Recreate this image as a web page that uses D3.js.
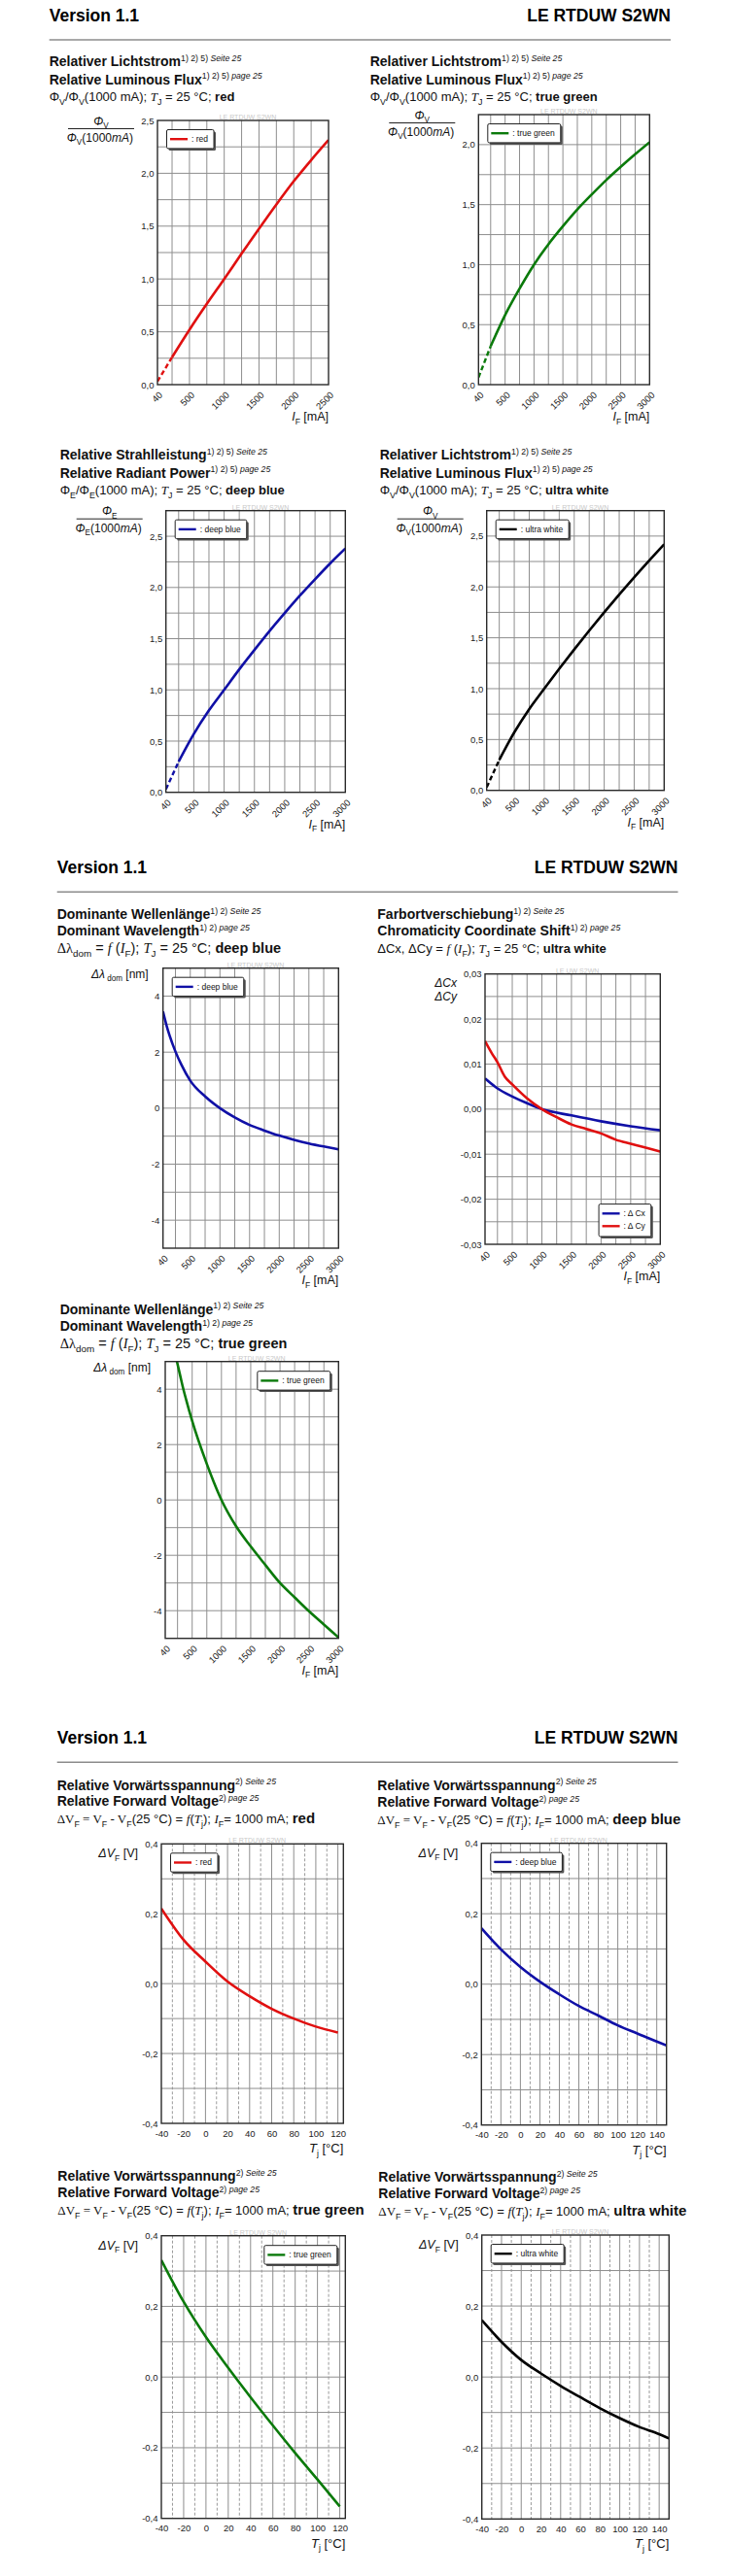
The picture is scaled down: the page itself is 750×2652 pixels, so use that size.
<!DOCTYPE html>
<html>
<head>
<meta charset="utf-8">
<script src="https://cdn.jsdelivr.net/npm/d3@7"></script>
<style>
body { margin: 0; background: #fff; }
svg { display: block; }
</style>
</head>
<body>
<div id="page"></div>
<script>
// ---------- data ----------
// relative flux / radiant power vs. forward current [mA]
const fluxRed   = [[40,0.03],[250,0.26],[500,0.52],[750,0.765],[1000,1.0],[1250,1.24],[1500,1.475],[1750,1.705],[2000,1.925],[2250,2.125],[2500,2.315]];
const fluxGreen = [[40,0.06],[250,0.32],[500,0.58],[750,0.8],[1000,1.0],[1250,1.17],[1500,1.32],[1750,1.46],[2000,1.585],[2250,1.705],[2500,1.815],[2750,1.92],[3000,2.02]];
const powerBlue = [[40,0.03],[250,0.3],[500,0.57],[750,0.8],[1000,1.0],[1250,1.2],[1500,1.39],[1750,1.575],[2000,1.75],[2250,1.92],[2500,2.08],[2750,2.235],[3000,2.38]];
const fluxWhite = [[40,0.03],[250,0.3],[500,0.57],[750,0.8],[1000,1.0],[1250,1.195],[1500,1.385],[1750,1.57],[2000,1.75],[2250,1.925],[2500,2.095],[2750,2.26],[3000,2.42]];
const dashedUntil = 250;

// dominant wavelength shift [nm] vs. current
const lambdaBlue  = [[40,3.45],[100,2.95],[150,2.6],[250,2.02],[350,1.55],[500,0.98],[750,0.42],[1000,0.0],[1250,-0.33],[1500,-0.6],[1750,-0.8],[2000,-0.98],[2250,-1.13],[2500,-1.26],[2750,-1.37],[3000,-1.47]];
const lambdaGreen = [[240,5.0],[300,4.45],[350,4.0],[400,3.6],[500,2.85],[750,1.3],[1000,0.0],[1250,-0.95],[1500,-1.68],[1750,-2.35],[2000,-3.0],[2250,-3.52],[2500,-4.03],[2750,-4.5],[3000,-4.97]];

// chromaticity shift, ultra white
const shiftCx = [[40,0.0068],[250,0.0046],[500,0.0028],[750,0.0013],[1000,0],[1500,-0.0014],[2000,-0.0027],[2500,-0.0038],[3000,-0.0047]];
const shiftCy = [[40,0.0151],[150,0.0125],[250,0.0104],[375,0.0072],[500,0.0055],[750,0.0024],[1000,0],[1250,-0.0018],[1500,-0.0034],[1750,-0.0044],[2000,-0.0054],[2250,-0.0068],[2500,-0.0077],[3000,-0.0094]];

// forward voltage shift [V] vs. junction temperature [°C]
const vfRed   = [[-40,0.215],[-20,0.126],[0,0.063],[20,0.006],[40,-0.036],[60,-0.072],[80,-0.1],[100,-0.123],[120,-0.14]];
const vfBlue  = [[-40,0.159],[-20,0.099],[0,0.049],[20,0.007],[40,-0.029],[60,-0.062],[80,-0.089],[100,-0.117],[120,-0.14],[140,-0.163],[150,-0.174]];
const vfGreen = [[-40,0.331],[-20,0.213],[0,0.113],[20,0.026],[40,-0.057],[60,-0.137],[80,-0.215],[100,-0.29],[120,-0.366]];
const vfWhite = [[-40,0.16],[-20,0.099],[0,0.048],[20,0.01],[40,-0.025],[60,-0.057],[80,-0.088],[100,-0.116],[120,-0.141],[140,-0.161],[150,-0.173]];

// tick labels
const currentTicks2500 = [40, 500, 1000, 1500, 2000, 2500];
const currentTicks3000 = [40, 500, 1000, 1500, 2000, 2500, 3000];
const fluxTicks25 = [0, 0.5, 1, 1.5, 2, 2.5];
const fluxTicks20 = [0, 0.5, 1, 1.5, 2];
const lambdaTicks = [-4, -2, 0, 2, 4];
const shiftTicks = [-0.03, -0.02, -0.01, 0, 0.01, 0.02, 0.03];
const vfTicks = [-0.4, -0.2, 0, 0.2, 0.4];
const tempTicks120 = [-40, -20, 0, 20, 40, 60, 80, 100, 120];
const tempTicks140 = [-40, -20, 0, 20, 40, 60, 80, 100, 120, 140];

// ---------- helpers ----------
const SANS = "'Liberation Sans', Arial, Helvetica, sans-serif";
const SERIF = "'Liberation Serif', 'Times New Roman', serif";
const loc = d3.formatLocale({decimal: ",", thousands: ".", grouping: [3], currency: ["", "€"], minus: "-"});

const COL = {red: "#e01010", green: "#0b7a0b", blue: "#1010a6", black: "#000"};

const N = t => ({t});
const B = (t, size) => ({t, b: true, size});
const I = t => ({t, i: true});
const IS = t => ({t, i: true, serif: true});
const S = t => ({t, serif: true});
const SUB = t => ({t, sub: true});
const SUP = t => ({t, sup: true});
const SUPI = t => ({t, sup: true, i: true});

const svg = d3.select("#page").append("svg")
    .attr("width", 750)
    .attr("height", 2652);
svg.append("rect").attr("width", 750).attr("height", 2652).attr("fill", "#fff");

// text with sub/superscripts built from tspans
function rich(g, x, y, segs, base, anchor) {
    const t = g.append("text")
        .attr("x", x)
        .attr("y", y)
        .attr("fill", "#111")
        .style("font-family", SANS)
        .style("font-size", base + "px")
        .style("text-anchor", anchor || "start");
    let shift = 0;
    segs.forEach(s => {
        let target = 0, size = s.size || base;
        if (s.sub) { target = base * 0.28; size = base * 0.68; }
        if (s.sup) { target = -base * 0.38; size = base * 0.62; }
        const sp = t.append("tspan").text(s.t)
            .attr("dy", target - shift)
            .style("font-size", size + "px");
        shift = target;
        if (s.b) sp.style("font-weight", "bold");
        if (s.i) sp.style("font-style", "italic");
        if (s.serif) sp.style("font-family", SERIF);
    });
    return t;
}

// ---------- page headers ----------
const headers = [
    {base: 21.7, line: 41, x0: 50.7, x1: 690},
    {base: 899.3, line: 918.3, x0: 58.7, x1: 697.5},
    {base: 1795, line: 1814.3, x0: 58.7, x1: 697.5}
];
headers.forEach(h => {
    svg.append("text").attr("x", h.x0).attr("y", h.base)
        .style("font-family", SANS).style("font-size", "17.5px").style("font-weight", "bold")
        .text("Version 1.1");
    svg.append("text").attr("x", h.x1).attr("y", h.base)
        .style("font-family", SANS).style("font-size", "17.5px").style("font-weight", "bold")
        .style("text-anchor", "end")
        .text("LE RTDUW S2WN");
    svg.append("line").attr("x1", h.x0).attr("x2", h.x1).attr("y1", h.line).attr("y2", h.line)
        .attr("stroke", "#8c8c8c").attr("stroke-width", 1.5);
});

// ---------- chart definitions ----------
const fluxTitle = (word, sym, color) => [
    [B(word === "E" ? "Relative Strahlleistung" : "Relativer Lichtstrom"), SUP("1) 2) 5) "), SUPI("Seite 25")],
    [B(word === "E" ? "Relative Radiant Power" : "Relative Luminous Flux"), SUP("1) 2) 5) "), SUPI("page 25")],
    [N("Φ"), SUB(sym), N("/Φ"), SUB(sym), N("(1000 mA); "), IS("T"), SUB("J"), N(" = 25 °C; "), B(color)]
];
const lambdaTitle = color => [
    [B("Dominante Wellenlänge"), SUP("1) 2) "), SUPI("Seite 25")],
    [B("Dominant Wavelength"), SUP("1) 2) "), SUPI("page 25")],
    [S("Δλ"), SUB("dom"), N(" = "), IS("f"), N(" ("), IS("I"), SUB("F"), N("); "), IS("T"), SUB("J"), N(" = 25 °C; "), B(color)]
];
const vfTitle = color => [
    [B("Relative Vorwärtsspannung"), SUP("2) "), SUPI("Seite 25")],
    [B("Relative Forward Voltage"), SUP("2) "), SUPI("page 25")],
    [S("ΔV"), SUB("F"), S(" = V"), SUB("F"), S(" - V"), SUB("F"), N("(25 °C) = "), IS("f"), N("("), IS("T"), SUB("j"), N("); "), IS("I"), SUB("F"), N("= 1000 mA; "), B(color, 15)]
];

const gridCurrent = max => d3.range(250, max, 250);

const charts = [
    {tx: 50.7, ty: [68.3, 86.7, 104.3], ts: [14, 14, 13], titles: fluxTitle("V", "V", "red"),
     left: 162, right: 338, top: 124, bottom: 396,
     xDomain: [40, 2500], yDomain: [0, 2.5], xTicks: currentTicks2500, yTicks: fluxTicks25, yFmt: loc.format(".1f"),
     xGrid: gridCurrent(2500), yGrid: d3.range(0.25, 2.5, 0.25), rotate: true, xLabel: "I",
     yLabel: {type: "frac", sym: "V"}, legend: {corner: "tl"},
     series: [{data: fluxRed, color: COL.red, label: ": red", dash: true}]},
    {tx: 380.7, ty: [68.3, 86.7, 104.3], ts: [14, 14, 13], titles: fluxTitle("V", "V", "true green"),
     left: 492.3, right: 668.3, top: 118, bottom: 396,
     xDomain: [40, 3000], yDomain: [0, 2.25], xTicks: currentTicks3000, yTicks: fluxTicks20, yFmt: loc.format(".1f"),
     xGrid: gridCurrent(3000), yGrid: d3.range(0.25, 2.25, 0.25), rotate: true, xLabel: "I",
     yLabel: {type: "frac", sym: "V"}, legend: {corner: "tl"},
     series: [{data: fluxGreen, color: COL.green, label: ": true green", dash: true}]},
    {tx: 61.7, ty: [473.3, 491.7, 509.3], ts: [14, 14, 13], titles: fluxTitle("E", "E", "deep blue"),
     left: 170.7, right: 355.3, top: 525.7, bottom: 815.7,
     xDomain: [40, 3000], yDomain: [0, 2.75], xTicks: currentTicks3000, yTicks: fluxTicks25, yFmt: loc.format(".1f"),
     xGrid: gridCurrent(3000), yGrid: d3.range(0.25, 2.75, 0.25), rotate: true, xLabel: "I",
     yLabel: {type: "frac", sym: "E"}, legend: {corner: "tl"},
     series: [{data: powerBlue, color: COL.blue, label: ": deep blue", dash: true}]},
    {tx: 390.7, ty: [473.3, 491.7, 509.3], ts: [14, 14, 13], titles: fluxTitle("V", "V", "ultra white"),
     left: 500.7, right: 683.3, top: 525.7, bottom: 813.7,
     xDomain: [40, 3000], yDomain: [0, 2.75], xTicks: currentTicks3000, yTicks: fluxTicks25, yFmt: loc.format(".1f"),
     xGrid: gridCurrent(3000), yGrid: d3.range(0.25, 2.75, 0.25), rotate: true, xLabel: "I",
     yLabel: {type: "frac", sym: "V"}, legend: {corner: "tl"},
     series: [{data: fluxWhite, color: COL.black, label: ": ultra white", dash: true}]},
    {tx: 58.7, ty: [946, 963.3, 981], ts: [14, 14, 14.5], titles: lambdaTitle("deep blue"),
     left: 167.7, right: 348.3, top: 996.7, bottom: 1285,
     xDomain: [40, 3000], yDomain: [-5, 5], xTicks: currentTicks3000, yTicks: lambdaTicks, yFmt: loc.format("d"),
     xGrid: gridCurrent(3000), yGrid: d3.range(-4, 5, 1), rotate: true, xLabel: "I",
     yLabel: {type: "lambda"}, legend: {corner: "tl"},
     series: [{data: lambdaBlue, color: COL.blue, label: ": deep blue"}]},
    {tx: 388.3, ty: [946, 963.3, 981], ts: [14, 14, 13],
     titles: [
        [B("Farbortverschiebung"), SUP("1) 2) "), SUPI("Seite 25")],
        [B("Chromaticity Coordinate Shift"), SUP("1) 2) "), SUPI("page 25")],
        [N("ΔCx, ΔCy = "), IS("f"), N(" ("), IS("I"), SUB("F"), N("); "), IS("T"), SUB("J"), N(" = 25 °C; "), B("ultra white")]
     ],
     left: 499, right: 679.3, top: 1002.7, bottom: 1281, wm: "LE UW S2WN",
     xDomain: [40, 3000], yDomain: [-0.03, 0.03], xTicks: currentTicks3000, yTicks: shiftTicks, yFmt: loc.format(".2f"),
     xGrid: gridCurrent(3000), yGrid: d3.range(-0.025, 0.03, 0.005), rotate: true, xLabel: "I",
     yLabel: {type: "cxy"}, legend: {corner: "br"},
     series: [{data: shiftCx, color: COL.blue, label: ": Δ Cx"}, {data: shiftCy, color: COL.red, label: ": Δ Cy"}]},
    {tx: 61.7, ty: [1352.7, 1370, 1387.7], ts: [14, 14, 14.5], titles: lambdaTitle("true green"),
     left: 170, right: 348.3, top: 1401.7, bottom: 1686.7,
     xDomain: [40, 3000], yDomain: [-5, 5], xTicks: currentTicks3000, yTicks: lambdaTicks, yFmt: loc.format("d"),
     xGrid: gridCurrent(3000), yGrid: d3.range(-4, 5, 1), rotate: true, xLabel: "I",
     yLabel: {type: "lambda"}, legend: {corner: "tr"},
     series: [{data: lambdaGreen, color: COL.green, label: ": true green"}]},
    {tx: 58.7, ty: [1842.7, 1859.3, 1877.3], ts: [14, 14, 13], titles: vfTitle("red"),
     left: 166, right: 353.3, top: 1898.3, bottom: 2186,
     xDomain: [-40, 125], yDomain: [-0.4, 0.4], xTicks: tempTicks120, yTicks: vfTicks, yFmt: loc.format(".1f"),
     xGrid: d3.range(-20, 125, 20), xGridDash: d3.range(-30, 125, 20), yGrid: d3.range(-0.3, 0.35, 0.1), xLabel: "T",
     yLabel: {type: "vf"}, legend: {corner: "tl"},
     series: [{data: vfRed, color: COL.red, label: ": red"}]},
    {tx: 388.3, ty: [1842.7, 1860, 1878], ts: [14, 14, 13], titles: vfTitle("deep blue"),
     left: 495.3, right: 685.7, top: 1897.7, bottom: 2187.7,
     xDomain: [-40, 150], yDomain: [-0.4, 0.4], xTicks: tempTicks140, yTicks: vfTicks, yFmt: loc.format(".1f"),
     xGrid: d3.range(-20, 150, 20), xGridDash: d3.range(-30, 150, 20), yGrid: d3.range(-0.3, 0.35, 0.1), xLabel: "T",
     yLabel: {type: "vf"}, legend: {corner: "tl"},
     series: [{data: vfBlue, color: COL.blue, label: ": deep blue"}]},
    {tx: 59.3, ty: [2245, 2262.3, 2280], ts: [14, 14, 13], titles: vfTitle("true green"),
     left: 166, right: 355.3, top: 2301.7, bottom: 2592.7,
     xDomain: [-40, 125], yDomain: [-0.4, 0.4], xTicks: tempTicks120, yTicks: vfTicks, yFmt: loc.format(".1f"),
     xGrid: d3.range(-20, 125, 20), xGridDash: d3.range(-30, 125, 20), yGrid: d3.range(-0.3, 0.35, 0.1), xLabel: "T",
     yLabel: {type: "vf"}, legend: {corner: "tr"},
     series: [{data: vfGreen, color: COL.green, label: ": true green"}]},
    {tx: 389.3, ty: [2246, 2263.3, 2281], ts: [14, 14, 13], titles: vfTitle("ultra white"),
     left: 495.7, right: 688.3, top: 2301, bottom: 2593.3,
     xDomain: [-40, 150], yDomain: [-0.4, 0.4], xTicks: tempTicks140, yTicks: vfTicks, yFmt: loc.format(".1f"),
     xGrid: d3.range(-20, 150, 20), xGridDash: d3.range(-30, 150, 20), yGrid: d3.range(-0.3, 0.35, 0.1), xLabel: "T",
     yLabel: {type: "vf"}, legend: {corner: "tl"},
     series: [{data: vfWhite, color: COL.black, label: ": ultra white"}]}
];

// ---------- drawing ----------
function drawChart(c, idx) {
    const g = svg.append("g").attr("class", "chart");

    c.titles.forEach((line, i) => rich(g, c.tx, c.ty[i], line, c.ts[i]));

    const x = d3.scaleLinear().domain(c.xDomain).range([c.left, c.right]);
    const y = d3.scaleLinear().domain(c.yDomain).range([c.bottom, c.top]);

    // grid
    const grid = g.append("g").attr("stroke", "#8e8e8e").attr("stroke-width", 1);
    grid.selectAll(".vg").data(c.xGrid).join("line")
        .attr("x1", d => x(d)).attr("x2", d => x(d))
        .attr("y1", c.top).attr("y2", c.bottom);
    if (c.xGridDash) {
        grid.selectAll(".vd").data(c.xGridDash).join("line")
            .attr("x1", d => x(d)).attr("x2", d => x(d))
            .attr("y1", c.top).attr("y2", c.bottom)
            .attr("stroke", "#9a9a9a")
            .attr("stroke-dasharray", "3,2");
    }
    grid.selectAll(".hg").data(c.yGrid).join("line")
        .attr("x1", c.left).attr("x2", c.right)
        .attr("y1", d => y(d)).attr("y2", d => y(d));

    // watermark
    g.append("text")
        .attr("x", (c.left + c.right) / 2 + 5)
        .attr("y", c.top - 1)
        .attr("fill", "#c9c9c9")
        .style("font-family", SANS).style("font-size", "7px")
        .style("text-anchor", "middle")
        .text(c.wm || "LE RTDUW S2WN");

    // series
    const clipId = "clip" + idx;
    g.append("clipPath").attr("id", clipId).append("rect")
        .attr("x", c.left).attr("y", c.top)
        .attr("width", c.right - c.left).attr("height", c.bottom - c.top);
    const line = d3.line().x(d => x(d[0])).y(d => y(d[1])).curve(d3.curveMonotoneX);
    const plot = g.append("g").attr("clip-path", `url(#${clipId})`);
    c.series.forEach(s => {
        if (s.dash) {
            plot.append("path").datum(s.data.filter(d => d[0] <= dashedUntil))
                .attr("d", line).attr("fill", "none").attr("stroke", s.color)
                .attr("stroke-width", 2.4).attr("stroke-dasharray", "5,3");
            plot.append("path").datum(s.data.filter(d => d[0] >= dashedUntil))
                .attr("d", line).attr("fill", "none").attr("stroke", s.color)
                .attr("stroke-width", 2.6);
        } else {
            plot.append("path").datum(s.data)
                .attr("d", line).attr("fill", "none").attr("stroke", s.color)
                .attr("stroke-width", 2.6);
        }
    });

    // frame
    g.append("rect")
        .attr("x", c.left).attr("y", c.top)
        .attr("width", c.right - c.left).attr("height", c.bottom - c.top)
        .attr("fill", "none").attr("stroke", "#2a2a2a").attr("stroke-width", 1.4);

    // axes (labels only)
    const yAxis = d3.axisLeft(y).tickValues(c.yTicks).tickSize(0).tickPadding(3.5).tickFormat(c.yFmt);
    const ya = g.append("g").attr("transform", `translate(${c.left},0)`).call(yAxis);
    ya.select(".domain").remove();
    ya.selectAll("text").style("font-family", SANS).style("font-size", "9.5px").attr("fill", "#222");

    const xAxis = d3.axisBottom(x).tickValues(c.xTicks).tickSize(0).tickPadding(7).tickFormat(d3.format("d"));
    const xa = g.append("g").attr("transform", `translate(0,${c.bottom})`).call(xAxis);
    xa.select(".domain").remove();
    xa.selectAll("text").style("font-family", SANS).style("font-size", "9.5px").attr("fill", "#222")
        .text(d => loc.format("d")(d));
    if (c.rotate) {
        xa.selectAll("text")
            .attr("y", 0).attr("dy", "0.35em")
            .attr("transform", "translate(3,9) rotate(-45)")
            .style("text-anchor", "end");
    }

    // axis titles
    if (c.xLabel === "I") {
        rich(g, c.right, c.bottom + 37, [I("I"), SUB("F"), N(" [mA]")], 12.5, "end");
    } else {
        rich(g, c.right, c.bottom + 30, [I("T"), SUB("j"), N(" [°C]")], 13, "end");
    }

    const yl = c.yLabel;
    if (yl.type === "frac") {
        const cx = c.left - 58;
        g.append("line")
            .attr("x1", c.left - 92).attr("x2", c.left - 24)
            .attr("y1", c.top + 8.5).attr("y2", c.top + 8.5)
            .attr("stroke", "#222").attr("stroke-width", 1);
        rich(g, cx, c.top + 4.5, [I("Φ"), SUB(yl.sym)], 12, "middle");
        rich(g, c.left - 25, c.top + 22, [I("Φ"), SUB(yl.sym), N("(1000"), I("mA"), N(")")], 12, "end");
    } else if (yl.type === "lambda") {
        rich(g, c.left - 15, c.top + 10, [I("Δλ"), SUB(" dom"), N(" [nm]")], 12, "end");
    } else if (yl.type === "cxy") {
        rich(g, c.left - 29, c.top + 13.5, [I("ΔCx")], 12, "end");
        rich(g, c.left - 29, c.top + 27, [I("ΔCy")], 12, "end");
    } else if (yl.type === "vf") {
        rich(g, c.left - 24, c.top + 14, [I("ΔV"), SUB("F"), N(" [V]")], 12.5, "end");
    }

    drawLegend(g, c);
}

function drawLegend(g, c) {
    const fs = 8.5, rowH = 13, padX = 3.5, sample = 18;
    const lg = g.append("g");
    const texts = c.series.map((s, i) => lg.append("text")
        .attr("x", padX + sample + 4)
        .attr("y", 9.7 + i * rowH)
        .attr("dy", "0.35em")
        .attr("fill", "#111")
        .style("font-family", SANS).style("font-size", fs + "px")
        .text(s.label));
    const tw = d3.max(texts, t => t.node().getComputedTextLength());
    const w = padX + sample + 4 + tw + 6;
    const h = 19.4 + (c.series.length - 1) * rowH + (c.series.length > 1 ? 1 : 0);

    c.series.forEach((s, i) => {
        lg.append("line")
            .attr("x1", padX).attr("x2", padX + sample)
            .attr("y1", 9.7 + i * rowH).attr("y2", 9.7 + i * rowH)
            .attr("stroke", s.color).attr("stroke-width", 2.4);
    });
    lg.insert("rect", ":first-child")
        .attr("width", w).attr("height", h).attr("rx", 1.5)
        .attr("fill", "#fff").attr("stroke", "#222").attr("stroke-width", 1);
    lg.insert("rect", ":first-child")
        .attr("x", 2).attr("y", 2)
        .attr("width", w).attr("height", h).attr("rx", 1.5)
        .attr("fill", "#555");

    let lx, ly;
    if (c.legend.corner === "tl") { lx = c.left + 9.5; ly = c.top + 9.5; }
    else if (c.legend.corner === "tr") { lx = c.right - 8.5 - w; ly = c.top + 10; }
    else { lx = c.right - 9.5 - w; ly = c.bottom - 8 - h; }
    lg.attr("transform", `translate(${lx},${ly})`);
}

charts.forEach(drawChart);
</script>
</body>
</html>
